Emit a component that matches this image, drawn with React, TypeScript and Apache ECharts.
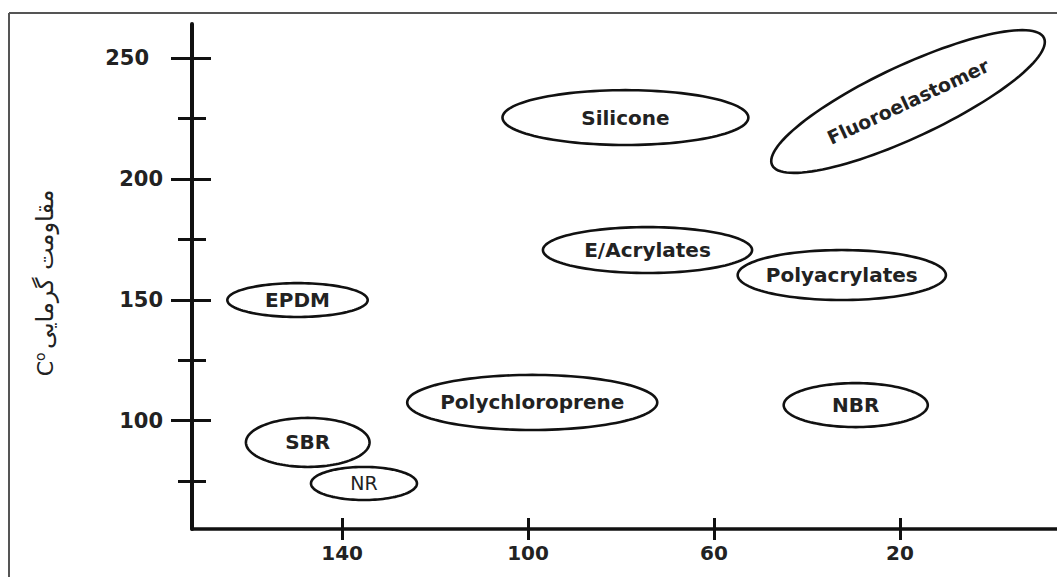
import React, { useEffect, useRef } from 'react';
import * as echarts from 'echarts';

// ---- data ----
const xTickValues = [140, 100, 60, 20];
const yMajorTickValues = [100, 150, 200, 250];
const yMinorTickValues = [75, 125, 175, 225];

const xExtent = [-13.8, 172.3];
const yExtent = [55.1, 264.2];

const materials = ['Silicone', 'E/Acrylates', 'Polyacrylates', 'Polychloroprene', 'NBR', 'EPDM', 'SBR', 'NR'];
const oilLow = [52.6, 51.8, 10.1, 72.2, 14.0, 134.5, 134.1, 123.9];
const oilHigh = [105.5, 96.8, 54.9, 126.0, 45.0, 164.7, 160.7, 146.7];
const heatLow = [214.1, 161.1, 149.9, 96.1, 97.3, 142.9, 80.8, 67.1];
const heatHigh = [236.8, 180.1, 170.6, 118.9, 115.5, 156.9, 101.1, 80.8];

const tiltedName = 'Fluoroelastomer';
const tiltedStart = [47.5, 205.8];
const tiltedEnd = [-11.0, 258.4];
const tiltedHeatWidth = 29.8;

const yTitle = 'مقاومت گرمایی';

const INK = '#111';
const TEXT = '#222';
const FONT = 'DejaVu Sans';

function ellipsePoints(cx: number, cy: number, a: number, b: number, phi: number) {
  const pts: number[][] = [];
  const n = 120;
  const c = Math.cos(phi);
  const s = Math.sin(phi);
  for (let i = 0; i < n; i++) {
    const t = (i / n) * Math.PI * 2;
    const ex = a * Math.cos(t);
    const ey = b * Math.sin(t);
    pts.push([cx + ex * c - ey * s, cy + ex * s + ey * c]);
  }
  return pts;
}

export default function App() {
  const ref = useRef<HTMLDivElement>(null);

  useEffect(() => {
    const chart = echarts.init(ref.current!, null, { renderer: 'svg' });

    const tickLine = { color: INK, width: 3 };
    const baseY = {
      type: 'value',
      min: yExtent[0],
      max: yExtent[1],
      position: 'left',
      offset: 0,
      splitLine: { show: false },
    };
    const baseX = {
      type: 'value',
      inverse: true,
      min: xExtent[0],
      max: xExtent[1],
      position: 'bottom',
      offset: 0,
      splitLine: { show: false },
    };

    const option: any = {
      animation: false,
      backgroundColor: '#fff',
      grid: { left: 192, right: 0, top: 24, bottom: 48, outerBoundsMode: 'none' },
      xAxis: [
        {
          ...baseX,
          axisLine: { show: true, onZero: false, lineStyle: { color: INK, width: 3.5 } },
          axisTick: { show: true, inside: false, length: 11, customValues: xTickValues, lineStyle: tickLine },
          axisLabel: {
            customValues: xTickValues,
            margin: 14,
            fontSize: 20,
            fontWeight: 'bold',
            fontFamily: FONT,
            color: TEXT,
          },
        },
        {
          ...baseX,
          axisLine: { show: false, onZero: false },
          axisTick: { show: true, inside: true, length: 11, customValues: xTickValues, lineStyle: tickLine },
          axisLabel: { show: false },
        },
      ],
      yAxis: [
        {
          ...baseY,
          axisLine: { show: true, onZero: false, lineStyle: { color: INK, width: 4 } },
          axisTick: { show: true, inside: false, length: 21, customValues: yMajorTickValues, lineStyle: tickLine },
          axisLabel: {
            customValues: yMajorTickValues,
            margin: 29,
            fontSize: 21,
            fontWeight: 'bold',
            fontFamily: FONT,
            color: TEXT,
            formatter: (v: number) => (v === 250 ? '{top|' + v + '}' : '{n|' + v + '}'),
            rich: {
              top: { padding: [0, 14, 0, 0], fontSize: 21, fontWeight: 'bold', fontFamily: FONT, color: TEXT },
              n: { fontSize: 21, fontWeight: 'bold', fontFamily: FONT, color: TEXT },
            },
          },
        },
        {
          ...baseY,
          axisLine: { show: false, onZero: false },
          axisTick: { show: true, inside: true, length: 19, customValues: yMajorTickValues, lineStyle: tickLine },
          axisLabel: { show: false },
        },
        {
          ...baseY,
          axisLine: { show: false, onZero: false },
          axisTick: { show: true, inside: false, length: 14, customValues: yMinorTickValues, lineStyle: tickLine },
          axisLabel: { show: false },
        },
        {
          ...baseY,
          axisLine: { show: false, onZero: false },
          axisTick: { show: true, inside: true, length: 14, customValues: yMinorTickValues, lineStyle: tickLine },
          axisLabel: { show: false },
        },
      ],
      graphic: [
        {
          type: 'line',
          shape: { x1: 9, y1: 13, x2: 1057, y2: 13 },
          style: { stroke: '#555', lineWidth: 2 },
        },
        {
          type: 'line',
          shape: { x1: 9, y1: 13, x2: 9, y2: 577 },
          style: { stroke: '#555', lineWidth: 2 },
        },
        {
          type: 'text',
          x: 45,
          y: 283,
          rotation: Math.PI / 2,
          style: {
            text: '{c|C}{o|o} {p|' + yTitle + '}',
            align: 'center',
            verticalAlign: 'middle',
            rich: {
              c: { fontSize: 22, fontFamily: FONT, fill: TEXT, color: TEXT },
              o: { fontSize: 14, fontFamily: FONT, fill: TEXT, color: TEXT, verticalAlign: 'top', padding: [0, 0, 10, 0] },
              p: { fontSize: 24, fontFamily: FONT, fill: TEXT, color: TEXT },
            },
          },
        },
      ],
      series: [
        {
          type: 'custom',
          xAxisIndex: 0,
          yAxisIndex: 0,
          clip: false,
          data: materials.map((_, i) => [oilLow[i], oilHigh[i], heatLow[i], heatHigh[i]]),
          encode: { x: [0, 1], y: [2, 3] },
          renderItem: (params: any, api: any) => {
            const p1 = api.coord([api.value(0), api.value(2)]);
            const p2 = api.coord([api.value(1), api.value(3)]);
            const cx = (p1[0] + p2[0]) / 2;
            const cy = (p1[1] + p2[1]) / 2;
            const rx = Math.abs(p2[0] - p1[0]) / 2;
            const ry = Math.abs(p2[1] - p1[1]) / 2;
            const name = materials[params.dataIndex];
            return {
              type: 'group',
              children: [
                {
                  type: 'polygon',
                  shape: { points: ellipsePoints(cx, cy, rx, ry, 0) },
                  style: { fill: 'none', stroke: INK, lineWidth: 2.6 },
                },
                {
                  type: 'text',
                  x: cx,
                  y: cy,
                  style: {
                    text: name,
                    align: 'center',
                    verticalAlign: 'middle',
                    fontSize: name === 'NR' ? 19 : 20,
                    fontWeight: name === 'NR' ? 'normal' : 'bold',
                    fontFamily: FONT,
                    fill: TEXT,
                  },
                },
              ],
            };
          },
        },
        {
          type: 'custom',
          xAxisIndex: 0,
          yAxisIndex: 0,
          clip: false,
          data: [[tiltedStart[0], tiltedStart[1], tiltedEnd[0], tiltedEnd[1], tiltedHeatWidth]],
          encode: { x: [0, 2], y: [1, 3] },
          renderItem: (params: any, api: any) => {
            const p1 = api.coord([api.value(0), api.value(1)]);
            const p2 = api.coord([api.value(2), api.value(3)]);
            const cx = (p1[0] + p2[0]) / 2;
            const cy = (p1[1] + p2[1]) / 2;
            const a = Math.hypot(p2[0] - p1[0], p2[1] - p1[1]) / 2;
            const phi = Math.atan2(p2[1] - p1[1], p2[0] - p1[0]);
            const b = Math.abs(api.size([0, api.value(4)])[1]) / 2;
            return {
              type: 'group',
              children: [
                {
                  type: 'polygon',
                  shape: { points: ellipsePoints(cx, cy, a, b, phi) },
                  style: { fill: 'none', stroke: INK, lineWidth: 2.6 },
                },
                {
                  type: 'text',
                  x: cx,
                  y: cy,
                  rotation: -phi,
                  style: {
                    text: tiltedName,
                    align: 'center',
                    verticalAlign: 'middle',
                    fontSize: 19,
                    fontWeight: 'bold',
                    fontFamily: FONT,
                    fill: TEXT,
                  },
                },
              ],
            };
          },
        },
      ],
    };

    chart.setOption(option);
    return () => chart.dispose();
  }, []);

  return (
    <div
      ref={ref}
      style={{ position: 'absolute', left: 0, top: 0, width: 1057, height: 577, background: '#fff' }}
    />
  );
}
